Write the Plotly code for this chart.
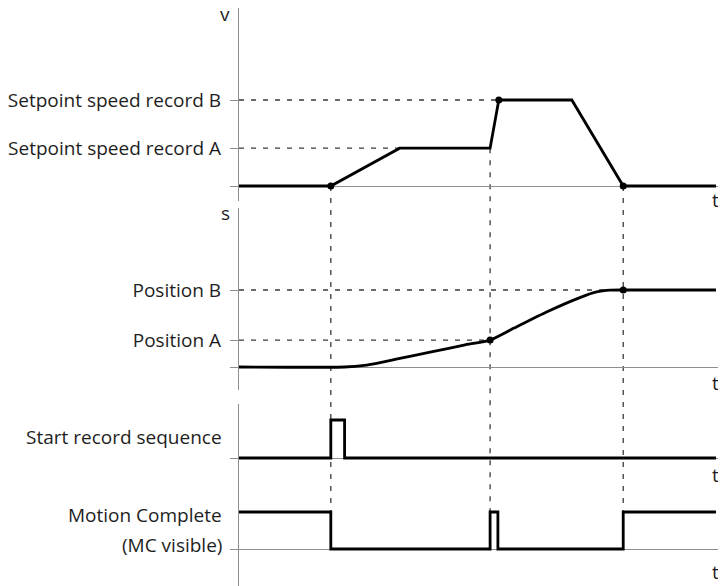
import plotly.graph_objects as go

# ---------------- data (time in arbitrary units) ----------------
t_range_max = 10.5
t_end = 10.39
t_start = 2.0          # start record sequence
t_pulse_end = 2.3
t_reach_A = 3.5
t_record_B = 5.47      # position A reached -> record B starts
t_mc_pulse_end = 5.64
t_reach_B = 5.66
t_decel = 7.25
t_stop = 8.37

v_A = 0.88
v_B = 2.0
v_t = [0, t_start, t_reach_A, t_record_B, t_reach_B, t_decel, t_stop, t_end]
v_val = [0, 0, v_A, v_A, v_B, v_B, 0, 0]
v_dot_t = [t_start, t_reach_B, t_stop]
v_dot_val = [0, v_B, 0]

s_A = 0.70
s_B = 2.0
s_t = [0, 2.30, 2.73, 3.10, 3.45, 4.19, 4.90, 5.47, 5.99, 6.70, 7.44, 7.79, 8.09, 8.37, t_end]
s_val = [0, 0, 0.04, 0.12, 0.21, 0.39, 0.57, 0.70, 1.01, 1.43, 1.81, 1.95, 1.995, 2.0, 2.0]
s_dot_t = [t_record_B, t_stop]
s_dot_val = [s_A, s_B]

start_t = [0, t_start, t_pulse_end, t_end]
start_val = [0, 1, 0, 0]

mc_t = [0, t_start, t_record_B, t_mc_pulse_end, t_stop, t_end]
mc_val = [1, 0, 1, 0, 1, 1]

v_labels = ["", "Setpoint speed record A", "Setpoint speed record B"]
s_labels = ["", "Position A", "Position B"]

# ---------------- layout helpers ----------------
# the page body adds an 8px margin, so the figure is drawn 8px smaller
W, H = 718, 578
FONT = "Open Sans"
TXT = "#1e1e1e"
GREY = "#8e8e8e"
DASH = "#3a3a3a"

# (top px, bottom px, zero px, px per unit) inside the figure
rows = [(0, 193, 178, 43.0), (200, 382, 359, 38.5), (396, 482, 450, 38.0), (482, 578, 541, 37.0)]
domains, ranges = [], []
for top, bot, zero, ppu in rows:
    domains.append([1 - bot / H, 1 - top / H])
    ranges.append([(zero - bot) / ppu, (zero - top) / ppu])


def to_paper(row, val):
    d0, d1 = domains[row]
    r0, r1 = ranges[row]
    return d0 + (val - r0) / (r1 - r0) * (d1 - d0)


fig = go.Figure()

line_style = dict(color="black", width=2.8)
dash_style = dict(color=DASH, width=1.3, dash="5px,7px")

# guide dashed lines (horizontal)
for yr, xs, lev in [("y", [0, t_reach_B], v_B), ("y", [0, t_record_B], v_A),
                    ("y2", [0, t_stop], s_B), ("y2", [0, t_record_B], s_A)]:
    fig.add_trace(go.Scatter(x=xs, y=[lev, lev], mode="lines", line=dash_style,
                             xaxis="x", yaxis=yr, hoverinfo="skip"))

# speed
fig.add_trace(go.Scatter(x=v_t, y=v_val, mode="lines", line=line_style, xaxis="x", yaxis="y"))
fig.add_trace(go.Scatter(x=v_dot_t, y=v_dot_val, mode="markers",
                         marker=dict(color="black", size=7), xaxis="x", yaxis="y"))
# position
fig.add_trace(go.Scatter(x=s_t, y=s_val, mode="lines",
                         line=dict(line_style, shape="spline", smoothing=0.6),
                         xaxis="x", yaxis="y2"))
fig.add_trace(go.Scatter(x=s_dot_t, y=s_dot_val, mode="markers",
                         marker=dict(color="black", size=7), xaxis="x", yaxis="y2"))
# start record sequence
fig.add_trace(go.Scatter(x=start_t, y=start_val, mode="lines", line=dict(line_style, shape="hv"),
                         xaxis="x", yaxis="y3"))
# motion complete
fig.add_trace(go.Scatter(x=mc_t, y=mc_val, mode="lines", line=dict(line_style, shape="hv"),
                         xaxis="x", yaxis="y4"))

# vertical dashed guides across panels
shapes = []
for tx, row0, val0 in [(t_start, 0, 0), (t_record_B, 0, v_A), (t_stop, 0, 0)]:
    shapes.append(dict(type="line", xref="x", yref="paper", x0=tx, x1=tx,
                       y0=to_paper(row0, val0), y1=to_paper(3, 0),
                       line=dash_style, layer="below"))

axis_common = dict(showgrid=False, zeroline=True, zerolinecolor=GREY, zerolinewidth=1.3,
                   showline=True, linecolor=GREY, linewidth=1.3, ticks="outside",
                   ticklen=8, tickcolor=GREY, tickwidth=1.3, anchor="x", fixedrange=True,
                   tickfont=dict(family=FONT, size=19, color=TXT), ticklabelstandoff=5)

layout = dict(
    width=W, height=H, margin=dict(l=229, r=5, t=0, b=0),
    paper_bgcolor="white", plot_bgcolor="white", showlegend=False, hovermode=False,
    font=dict(family=FONT, size=19, color=TXT),
    xaxis=dict(range=[0, t_range_max], domain=[0, 1], showgrid=False, zeroline=False,
               showline=False, showticklabels=False, ticks="", fixedrange=True),
    shapes=shapes,
)
layout["yaxis"] = dict(axis_common, domain=domains[0], range=ranges[0],
                       tickvals=[0, v_A, v_B], ticktext=v_labels)
layout["yaxis2"] = dict(axis_common, domain=domains[1], range=ranges[1],
                        tickvals=[0, s_A, s_B], ticktext=s_labels)
layout["yaxis3"] = dict(axis_common, domain=domains[2], range=ranges[2],
                        tickvals=[0], ticktext=[""])
layout["yaxis4"] = dict(axis_common, domain=domains[3], range=ranges[3],
                        tickvals=[0], ticktext=[""])

ann = []
# axis letters
ann.append(dict(text="v", xref="paper", x=0, xanchor="right", xshift=-7, yref="y", y=4.0,
                yanchor="middle", height=14, valign="middle", showarrow=False))
ann.append(dict(text="s", xref="paper", x=0, xanchor="right", xshift=-7, yref="y2", y=4.0,
                yanchor="middle", showarrow=False))
for yr, yy in [("y", -0.33), ("y2", -0.42), ("y3", -0.45), ("y4", -0.62)]:
    ann.append(dict(text="t", xref="x", x=t_end, xanchor="center", yref=yr, y=yy,
                    yanchor="middle", showarrow=False))
# signal labels
ann.append(dict(text="Start record sequence", xref="paper", x=0, xanchor="right", xshift=-15,
                yref="y3", y=0.55, yanchor="middle", showarrow=False))
ann.append(dict(text="Motion Complete", xref="paper", x=0, xanchor="right", xshift=-15,
                yref="y4", y=0.92, yanchor="middle", showarrow=False))
ann.append(dict(text="(MC visible)", xref="paper", x=0, xanchor="right", xshift=-15,
                yref="y4", y=0.11, yanchor="middle", showarrow=False))
layout["annotations"] = ann

fig.update_layout(**layout)
fig.write_html("out.html")
